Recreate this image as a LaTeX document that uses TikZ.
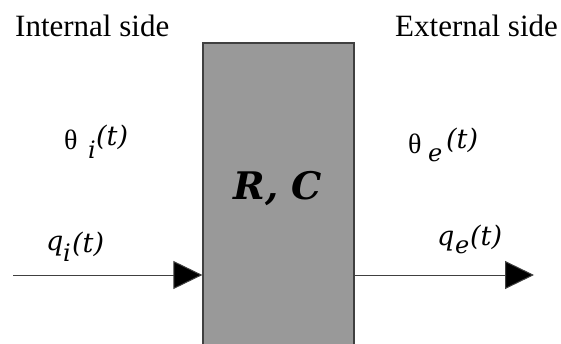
\documentclass[tikz,border=0pt]{standalone}
\usepackage{fontspec}
\setmainfont{Liberation Serif}
\newfontfamily\labfont{DejaVu Serif}
\usetikzlibrary{arrows.meta}
\tikzset{
  head/.style={font=\fontsize{31}{31}\selectfont, anchor=base west, inner sep=0pt},
  theta/.style={font=\fontsize{28}{28}\selectfont, anchor=base west, inner sep=0pt},
  ital/.style={font=\labfont\itshape\fontsize{27}{27}\selectfont, anchor=base west, inner sep=0pt},
  sub/.style={font=\labfont\itshape\fontsize{24}{24}\selectfont, anchor=base west, inner sep=0pt},
  wall/.style={draw=black!75, line width=1.3pt, fill=black!40, minimum width=151pt, minimum height=310pt, inner sep=0pt},
  flow/.style={draw=black!75, line width=1pt, -{Triangle[length=29pt,width=28pt,fill=black]}}
}
\begin{document}
\begin{tikzpicture}[x=1pt,y=-1pt]
\useasboundingbox (0,0) rectangle (561,344);
\clip (0,0) rectangle (561,344);
\node[wall] (box) at (278.5,198) {};
\node[font=\labfont\bfseries\itshape\fontsize{38}{38}\selectfont, anchor=base, inner sep=0pt] (rc) at (278,200) {R, C};
\node[head] (int) at (15,37) {Internal side};
\node[head] (ext) at (395,37) {External side};
% theta i
\node[theta] (thi) at (64,150) {θ};
\node[sub] (thii) at (88,159) {i};
\node[ital] (thit) at (96,146) {(t)};
% theta e
\node[theta] (the) at (408,154) {θ};
\node[sub] (thee) at (428,162) {e};
\node[ital] (thet) at (446,149) {(t)};
% q i
\node[ital] (qi) at (46,251) {q};
\node[sub] (qii) at (63,261) {i};
\node[ital] (qit) at (72,252) {(t)};
% q e
\node[ital] (qe) at (437,245) {q};
\node[sub] (qee) at (455,254) {e};
\node[ital] (qet) at (470,246) {(t)};
% flows
\coordinate (src) at (13,275);
\coordinate (dst) at (534,275);
\draw[flow] (src) -- (src -| box.west);
\draw[flow] (src -| box.east) -- (dst);
\end{tikzpicture}
\end{document}
